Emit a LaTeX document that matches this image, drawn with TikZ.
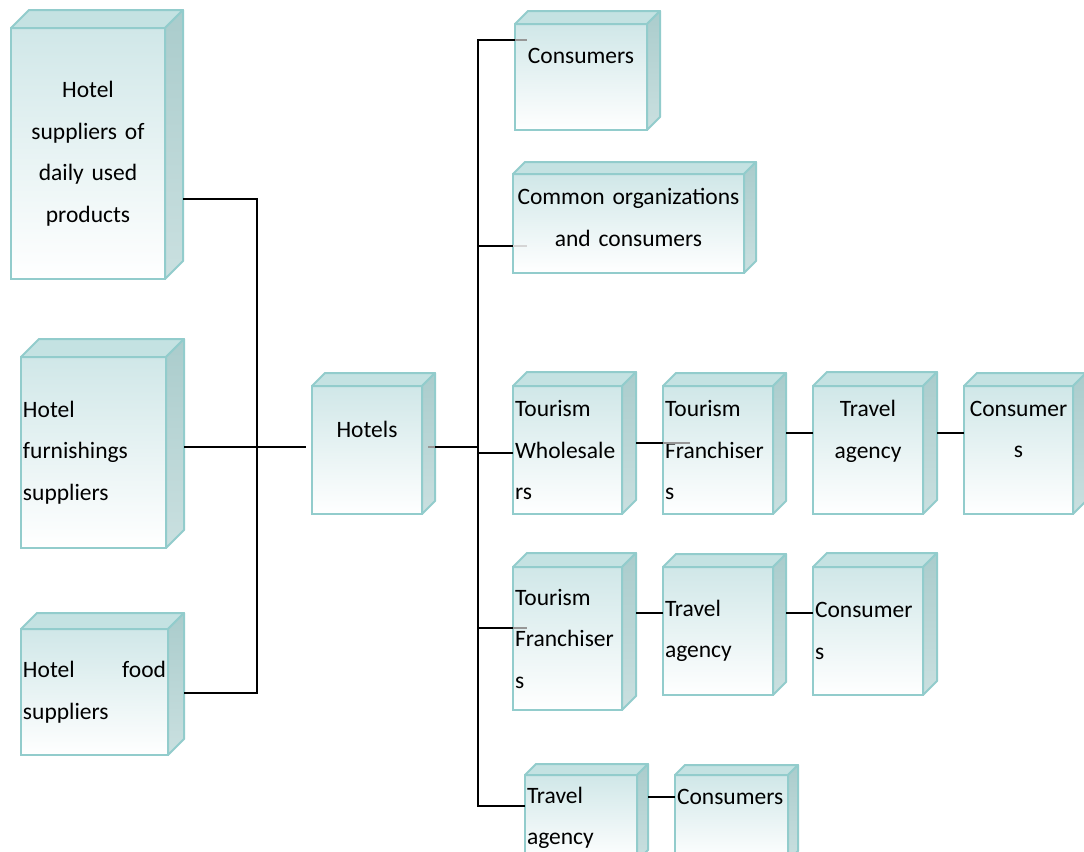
\documentclass[tikz,border=0pt]{standalone}
\usepackage{fontspec}
\setmainfont{Carlito}
\usetikzlibrary{calc}
\definecolor{bord}{RGB}{146,204,204}
\definecolor{fronttop}{RGB}{208,231,232}
\definecolor{topf}{RGB}{196,226,226}
\definecolor{sidetop}{RGB}{170,204,204}
\definecolor{sidebot}{RGB}{202,224,224}
\definecolor{tailgray}{RGB}{150,150,150}
\tikzset{
  front/.style={draw=bord, line width=1pt, top color=fronttop, bottom color=white,
    outer sep=0pt, inner xsep=1pt, inner ysep=0pt,
    font=\fontsize{11.75pt}{20.75pt}\selectfont},
  topface/.style={draw=bord, line width=1pt, fill=topf, line join=round},
  sideface/.style={draw=bord, line width=1pt, top color=sidetop, bottom color=sidebot, line join=round},
  conn/.style={draw=black, line width=1pt},
  tail/.style={draw=tailgray, line width=1pt}
}
\newcommand\cubebox[8]{%
  \pgfmathsetmacro\cbW{0.5*(#4-#2)}%
  \pgfmathsetmacro\cbH{0.5*(#5-#3)}%
  \pgfmathsetmacro\cbT{0.5*(#4-#2)-2}%
  \node[front, anchor=north west, minimum width=\cbW pt, minimum height=\cbH pt,
        text width=\cbT pt, align=#7] (#1) at (#2,#3) {#8};
  \path[topface] (#1.north west) -- ++(#6,-#6) -- ($(#1.north east)+(#6,-#6)$) -- (#1.north east) -- cycle;
  \path[sideface] (#1.north east) -- ++(#6,-#6) -- ($(#1.south east)+(#6,-#6)$) -- (#1.south east) -- cycle;
  \coordinate (#1-r) at ($(#1.east)+(#6,0)$);
}
\begin{document}
\begin{tikzpicture}[x=0.5pt, y=-0.5pt]
\useasboundingbox (0,0) rectangle (1084,852);
\fill[white] (0,0) rectangle (1084,852);

\cubebox{sup1}{11}{28}{165}{279}{18}{center}{Hotel\\suppliers of\\daily used\\products}
\cubebox{sup2}{21}{357}{166}{548}{18}{left}{Hotel\\furnishings\\suppliers}
\cubebox{sup3}{21}{629}{168}{755}{16}{left}{Hotel\hfill food\\suppliers}
\cubebox{hotels}{312}{386}{422}{514}{13}{center}{Hotels\\~}
\cubebox{cons0}{515}{24}{647}{130}{13}{center}{Consumers\\~}
\cubebox{common}{513}{174}{744}{273}{12}{center}{Common organizations\\and consumers\\[-14.5pt]~}
\cubebox{tw}{513}{386}{622}{514}{14}{left}{Tourism\\Wholesale\\rs}
\cubebox{tf1}{663}{386}{773}{514}{13}{left}{Tourism\\Franchiser\\s}
\cubebox{ta1}{813}{386}{923}{514}{14}{center}{Travel\\agency\\~}
\cubebox{c1}{964}{386}{1073}{514}{13}{center}{Consumer\\s\\~}
\cubebox{tf2}{513}{567}{622}{710}{14}{left}{Tourism\\Franchiser\\s}
\cubebox{ta2}{663}{567}{773}{695}{13}{left}{Travel\\agency}
\cubebox{c2}{813}{567}{923}{695}{14}{left}{Consumer\\s}
\cubebox{ta3}{525}{775}{637}{861}{11}{left}{Travel\\agency}
\cubebox{c3}{675}{775}{788}{861}{10}{left}{Consumers\\~}

% junction coordinates
\coordinate (Ltop) at (257,199);
\coordinate (Lmid) at (257,447);
\coordinate (Lbot) at (257,693);
\coordinate (Hin) at (306,447);
\coordinate (Rtop) at (478,40);
\coordinate (Rc) at (478,246);
\coordinate (Rh) at (478,447);
\coordinate (Rw) at (478,453);
\coordinate (Rf) at (478,628);
\coordinate (Rbot) at (478,806);

% left side
\draw[conn] (sup1-r |- Ltop) -- (Ltop) -- (Lbot) -- (sup3-r |- Lbot);
\draw[conn] (sup2-r |- Lmid) -- (Hin);
% hotels to right bus
\draw[tail] ([xshift=-3.5pt]hotels-r |- Rh) -- (hotels-r |- Rh);
\draw[conn] (hotels-r |- Rh) -- (Rh);
\draw[conn] (cons0.west |- Rtop) -- (Rtop) -- (Rbot) -- (ta3.west |- Rbot);
\draw[conn] (Rc) -- (common.west |- Rc);
\draw[conn] (Rw) -- (tw.west |- Rw);
\draw[conn] (Rf) -- (tf2.west |- Rf);
% gray tails
\draw[tail] (cons0.west |- Rtop) -- ++(12,0);
\draw[tail, draw=tailgray!40] (common.west |- Rc) -- ++(14,0);
\draw[tail] (tf2.west |- Rf) -- ++(14,0);
% row 1
\draw[conn] (tw-r |- 0,443) -- (tf1.west |- 0,443);
\draw[tail] (tf1.west |- 0,443) -- ++(27,0);
\draw[conn] (tf1-r |- 0,433) -- (ta1.west |- 0,433);
\draw[conn] (ta1-r |- 0,433) -- (c1.west |- 0,433);
% row 2
\draw[conn] (tf2-r |- 0,613) -- (ta2.west |- 0,613);
\draw[conn] (ta2-r |- 0,613) -- (c2.west |- 0,613);
% row 3
\draw[conn] (ta3-r |- 0,797) -- (c3.west |- 0,797);
\end{tikzpicture}
\end{document}
